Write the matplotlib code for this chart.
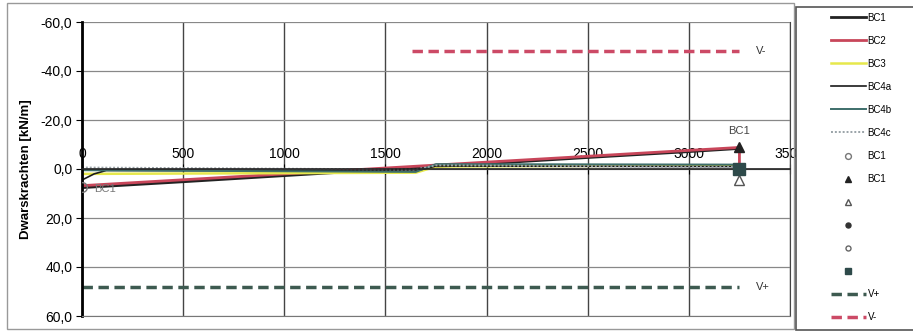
import matplotlib.pyplot as plt
from matplotlib.patches import Rectangle
from matplotlib.ticker import FuncFormatter

plt.rcParams['font.family'] = ['Liberation Sans', 'DejaVu Sans']

# position along the wall [mm] and shear force [kN/m] per load case
x_bc1 = [0, 500, 1000, 1500, 2000, 2500, 3000, 3250]
v_bc1 = [7.6, 5.2, 2.7, 0.2, -2.2, -4.7, -7.1, -8.4]
x_bc2 = [0, 500, 1000, 1500, 2000, 2500, 3000, 3250, 3250]
v_bc2 = [6.8, 4.4, 2.0, -0.4, -2.8, -5.2, -7.6, -8.8, 0.0]
x_bc3 = [0, 1650, 1750, 3250]
v_bc3 = [2.0, 1.5, -1.0, -1.5]
x_bc4a = [0, 60, 120, 1650, 1750, 3250]
v_bc4a = [4.5, 2.0, 0.6, 0.8, -1.2, -1.0]
x_bc4b = [0, 1650, 1750, 3250]
v_bc4b = [0.5, 1.2, -2.0, -1.8]
x_bc4c = [0, 1650, 1750, 3250]
v_bc4c = [-0.6, 0.2, -1.5, -0.8]

# support reactions
sup_x = [0, 3250, 3250, 3250, 3250, 3250]
sup_v = [7.5, -9.0, 4.5, 0.0, 0.0, 0.0]
sup_labels = ["BC1", "BC1", " ", " ", " ", " "]

# shear capacity
x_vplus = [0, 3250]
v_plus = 48
x_vmin = [1630, 3250]
v_min = -48

xticks = [0, 500, 1000, 1500, 2000, 2500, 3000, 3500]
yticks = [-60, -40, -20, 0, 20, 40, 60]

W, H = 913, 332
fig = plt.figure(figsize=(W / 100, H / 100), dpi=100)
ax = fig.add_axes([82 / W, 1 - 316 / H, (790 - 82) / W, (316 - 22) / H])

lines = []
lines += ax.plot(x_bc1, v_bc1, color="#222222", lw=2.0, label="BC1")
lines += ax.plot(x_bc2, v_bc2, color="#c8465a", lw=2.0, label="BC2")
lines += ax.plot(x_bc3, v_bc3, color="#e6e84c", lw=1.8, label="BC3")
lines += ax.plot(x_bc4a, v_bc4a, color="#1a1a1a", lw=1.2, label="BC4a")
lines += ax.plot(x_bc4b, v_bc4b, color="#3d6e6a", lw=1.4, label="BC4b")
lines += ax.plot(x_bc4c, v_bc4c, color="#9aa3a8", lw=1.4, ls=(0, (1, 1)), label="BC4c")

marker_styles = [
    dict(marker="o", mfc="none", mec="#777777", ms=7),
    dict(marker="^", mfc="#222222", mec="#222222", ms=7),
    dict(marker="^", mfc="white", mec="#555555", ms=7),
    dict(marker="o", mfc="#333333", mec="#333333", ms=6),
    dict(marker="o", mfc="none", mec="#666666", ms=6),
    dict(marker="s", mfc="#2e4a4a", mec="#2e4a4a", ms=8),
]
points = []
for px, pv, st in zip(sup_x, sup_v, marker_styles):
    points += ax.plot([px], [pv], ls="none", zorder=5, **st)

vp, = ax.plot(x_vplus, [v_plus, v_plus], color="#3d5a50", lw=2.5, ls=(0, (3, 1.6)))
vm, = ax.plot(x_vmin, [v_min, v_min], color="#cc4a66", lw=2.5, ls=(0, (3, 1.6)))
ax.text(3330, v_plus, "V+", fontsize=8, va="center", color="#333333")
ax.text(3330, v_min, "V-", fontsize=8, va="center", color="#333333")
ax.text(60, 8.0, "BC1", fontsize=8, va="center", color="#777777")
ax.text(3250, -15.5, "BC1", fontsize=8, ha="center", va="center", color="#444444")

ax.set_xlim(0, 3500)
ax.set_ylim(60, -60)
ax.set_xticks(xticks)
ax.set_yticks(yticks)
ax.yaxis.set_major_formatter(FuncFormatter(lambda v, p: f"{abs(v) if v == 0 else v:.1f}".replace(".", ",")))

# x axis runs through zero with its labels above it
ax.xaxis.set_ticks_position("top")
ax.spines["top"].set_position(("data", 0))
ax.spines["top"].set_color("#222222")
ax.spines["top"].set_linewidth(1.2)
ax.spines["left"].set_linewidth(2.0)
ax.spines["bottom"].set_color("#777777")
ax.spines["right"].set_color("#444444")
ax.tick_params(axis="x", direction="inout", length=7, labelsize=10, pad=2)
ax.tick_params(axis="y", direction="out", length=4, labelsize=10, pad=3)
ax.set_ylabel("Dwarskrachten [kN/m]", fontsize=9.5, fontweight="bold", labelpad=6)

ax.grid(axis="x", color="#444444", lw=1.0)
ax.grid(axis="y", color="#888888", lw=0.9)
ax.set_axisbelow(True)

# outer chart frame and legend box
fig.patches.append(Rectangle((7 / W, 1 - 329 / H), (794 - 7) / W, (329 - 3) / H,
                             transform=fig.transFigure, fill=False, ec="#999999", lw=1.0))
fig.patches.append(Rectangle((796 / W, 1 - 330 / H), 130 / W, (330 - 7) / H,
                             transform=fig.transFigure, fc="white", ec="#555555", lw=1.2, zorder=1))

fig.legend(lines + points + [vp, vm],
           ["BC1", "BC2", "BC3", "BC4a", "BC4b", "BC4c"] + sup_labels + ["V+", "V-"],
           loc="upper left", bbox_to_anchor=(822 / W, 1 - 4 / H), frameon=False,
           fontsize=7, labelspacing=1.34, handlelength=3.6, handletextpad=0.2,
           markerscale=0.6, numpoints=1)

fig.savefig("out.png", dpi=100)
